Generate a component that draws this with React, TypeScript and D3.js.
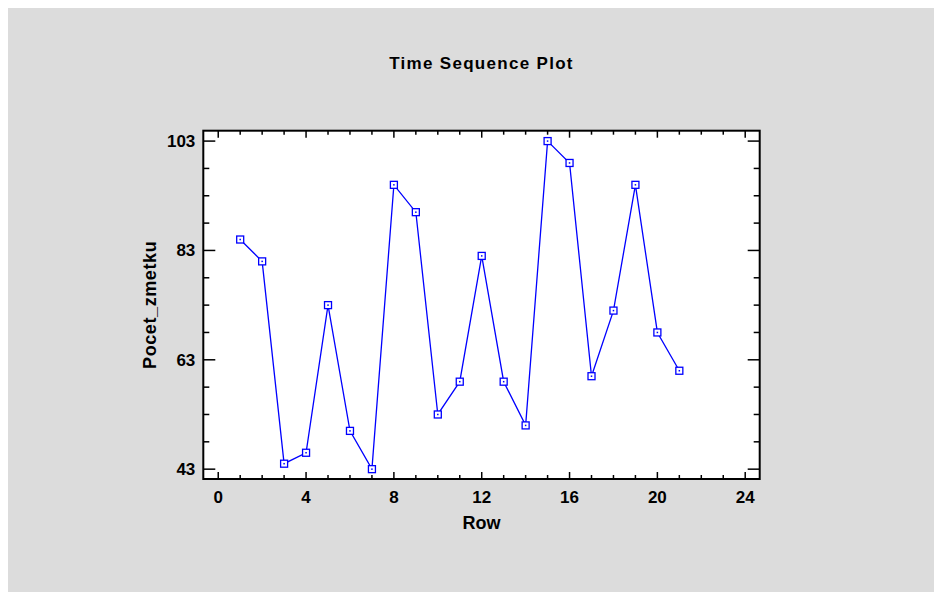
import React from 'react';
import * as d3 from 'd3';

const rows = [1, 2, 3, 4, 5, 6, 7, 8, 9, 10, 11, 12, 13, 14, 15, 16, 17, 18, 19, 20, 21];
const pocetZmetku = [85, 81, 44, 46, 73, 50, 43, 95, 90, 53, 59, 82, 59, 51, 103, 99, 60, 72, 95, 68, 61];
const xTicks = [0, 4, 8, 12, 16, 20, 24];
const yTicks = [43, 63, 83, 103];

const App = () => {
  const width = 934;
  const height = 584;
  // plot frame, relative to the gray panel (panel sits at the 8px body margin)
  const left = 195.3;
  const right = 751.7;
  const top = 122.7;
  const bottom = 471;

  const x = d3.scaleLinear().domain([-0.68, 24.66]).range([left, right]);
  const y = d3.scaleLinear().domain([41.2, 104.9]).range([bottom, top]);

  const line = d3.line<number>()
    .x((d, i) => x(rows[i]))
    .y(d => y(d));

  const xMinor = d3.range(0, 25, 1).filter(v => v % 4 !== 0);
  const yMinor = d3.range(43, 105, 5).filter(v => (v - 43) % 20 !== 0);

  const font = '"Liberation Sans", Arial, sans-serif';

  return (
    <svg width={width} height={height} style={{ display: 'block' }}>
      <rect x={0} y={0} width={width} height={height} fill="#dcdcdc" />
      <rect x={left} y={top} width={right - left} height={bottom - top} fill="white" />

      <text x={(left + right) / 2} y={61} textAnchor="middle" fontFamily={font} fontWeight="bold" fontSize={17} letterSpacing={1.3}>
        Time Sequence Plot
      </text>

      {/* x ticks bottom & top */}
      {xTicks.map(t => (
        <g key={'xt' + t}>
          <line x1={x(t)} x2={x(t)} y1={bottom} y2={bottom - 7} stroke="black" strokeWidth={1.5} />
          <line x1={x(t)} x2={x(t)} y1={top} y2={top + 7} stroke="black" strokeWidth={1.5} />
          <text x={x(t)} y={bottom + 24} textAnchor="middle" fontFamily={font} fontWeight="bold" fontSize={17}>
            {t}
          </text>
        </g>
      ))}
      {xMinor.map(t => (
        <g key={'xm' + t}>
          <line x1={x(t)} x2={x(t)} y1={bottom} y2={bottom - 4} stroke="black" strokeWidth={1.5} />
          <line x1={x(t)} x2={x(t)} y1={top} y2={top + 4} stroke="black" strokeWidth={1.5} />
        </g>
      ))}

      {/* y ticks left & right */}
      {yTicks.map(t => (
        <g key={'yt' + t}>
          <line x1={left} x2={left + 12} y1={y(t)} y2={y(t)} stroke="black" strokeWidth={1.5} />
          <line x1={right} x2={right - 12} y1={y(t)} y2={y(t)} stroke="black" strokeWidth={1.5} />
          <text x={left - 8} y={y(t) + 6} textAnchor="end" fontFamily={font} fontWeight="bold" fontSize={17}>
            {t}
          </text>
        </g>
      ))}
      {yMinor.map(t => (
        <g key={'ym' + t}>
          <line x1={left} x2={left + 6} y1={y(t)} y2={y(t)} stroke="black" strokeWidth={1.5} />
          <line x1={right} x2={right - 6} y1={y(t)} y2={y(t)} stroke="black" strokeWidth={1.5} />
        </g>
      ))}

      <rect x={left} y={top} width={right - left} height={bottom - top} fill="none" stroke="black" strokeWidth={2} />

      <text x={(left + right) / 2} y={521} textAnchor="middle" fontFamily={font} fontWeight="bold" fontSize={18}>
        Row
      </text>
      <text
        transform={`translate(148, ${(top + bottom) / 2}) rotate(-90)`}
        textAnchor="middle"
        fontFamily={font}
        fontWeight="bold"
        fontSize={18}
        letterSpacing={0.6}
      >
        Pocet_zmetku
      </text>

      <path d={line(pocetZmetku) || ''} fill="none" stroke="#0000ff" strokeWidth={1.3} />
      {pocetZmetku.map((v, i) => (
        <g key={'p' + i}>
          <rect x={x(rows[i]) - 3.5} y={y(v) - 3.5} width={7} height={7} fill="white" stroke="#0000ff" strokeWidth={1.3} />
          <rect x={x(rows[i]) - 0.75} y={y(v) - 0.75} width={1.5} height={1.5} fill="#0000ff" />
        </g>
      ))}
    </svg>
  );
};

export default App;
